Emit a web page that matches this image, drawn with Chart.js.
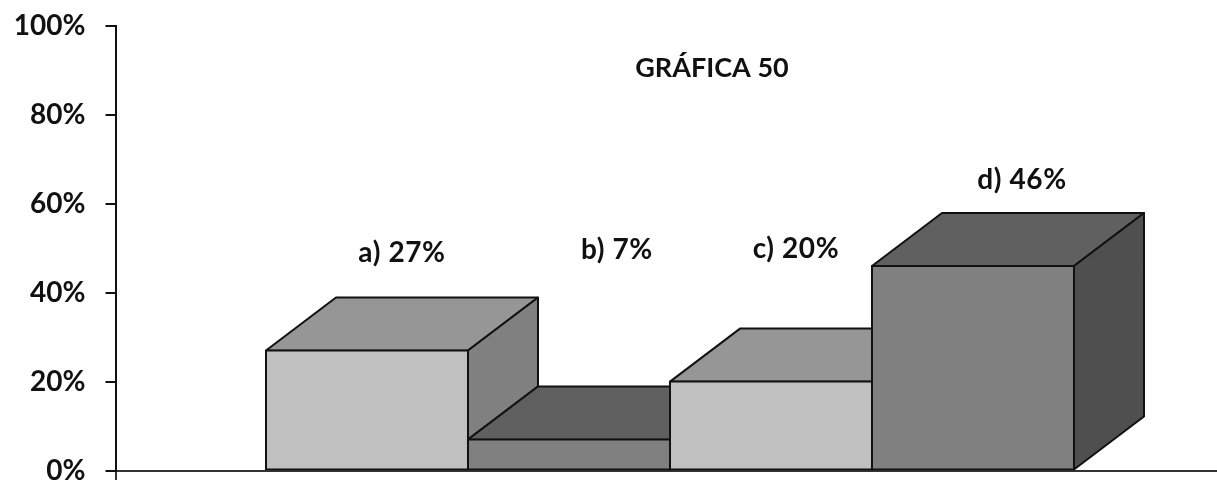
<!DOCTYPE html>
<html>
<head>
<meta charset="utf-8">
<title>GRÁFICA 50</title>
<script src="https://cdn.jsdelivr.net/npm/chart.js@4"></script>
<style>
  html, body { margin: 0; padding: 0; background: #fff; }
  #wrap { width: 1217px; height: 480px; }
</style>
</head>
<body>
<div id="wrap"><canvas id="chart"></canvas></div>
<script>
// datos de la gráfica
const categories = ['a)', 'b)', 'c)', 'd)'];
const values = [27, 7, 20, 46];
const yTicks = [0, 20, 40, 60, 80, 100];
const chartTitle = 'GRÁFICA 50';

// colores de cada cara
const frontColors = ['#c0c0c0', '#808080', '#c0c0c0', '#808080'];
const topColors = ['#969696', '#606060', '#969696', '#606060'];
const sideColors = ['#808080', '#4f4f4f', '#808080', '#4f4f4f'];

// desplazamiento de las etiquetas respecto al centro de cada barra
const labelDx = [35, 48, 25, 49];
const labelY = [253, 250, 249, 180];

const DEPTH_X = 70;
const DEPTH_Y = 53;

function poly(c, pts, fill) {
  c.beginPath();
  pts.forEach((p, i) => i ? c.lineTo(p[0], p[1]) : c.moveTo(p[0], p[1]));
  c.closePath();
  c.fillStyle = fill;
  c.fill();
  c.stroke();
}

// caras superior y lateral, antes de las barras
const depthFaces = {
  id: 'depthFaces',
  beforeDatasetsDraw(chart) {
    const c = chart.ctx;
    const bars = chart.getDatasetMeta(0).data;
    c.save();
    c.strokeStyle = '#111';
    c.lineWidth = 2;
    c.lineJoin = 'round';
    bars.forEach((b, i) => {
      const l = b.x - b.width / 2, r = b.x + b.width / 2;
      const t = b.y, base = b.base;
      poly(c, [[l, t], [r, t], [r + DEPTH_X, t - DEPTH_Y], [l + DEPTH_X, t - DEPTH_Y]], topColors[i]);
      poly(c, [[r, t], [r + DEPTH_X, t - DEPTH_Y], [r + DEPTH_X, base - DEPTH_Y], [r, base]], sideColors[i]);
    });
    c.restore();
  }
};

// título y etiquetas de valor
const textLabels = {
  id: 'textLabels',
  afterDraw(chart) {
    const c = chart.ctx;
    const bars = chart.getDatasetMeta(0).data;
    c.save();
    c.fillStyle = '#111';
    c.textAlign = 'center';
    c.textBaseline = 'middle';
    c.font = 'bold 28px Lato';
    c.letterSpacing = '0.6px';
    bars.forEach((b, i) => {
      c.fillText(categories[i] + ' ' + values[i] + '%', b.x + labelDx[i], labelY[i]);
    });
    c.letterSpacing = '0px';
    c.font = 'bold 27px Lato';
    c.fillText(chartTitle, 712, 68);
    c.restore();
  }
};

new Chart(document.getElementById('chart'), {
  type: 'bar',
  data: {
    datasets: [{
      data: values.map((v, i) => ({ x: i, y: v })),
      backgroundColor: frontColors,
      borderColor: '#111',
      borderWidth: 2,
      borderSkipped: false,
      inflateAmount: 1,
      barPercentage: 1,
      categoryPercentage: 1
    }]
  },
  options: {
    responsive: true,
    maintainAspectRatio: false,
    animation: false,
    layout: { autoPadding: false, padding: { top: 26, right: 0, bottom: 0, left: 0 } },
    plugins: { legend: { display: false }, tooltip: { enabled: false } },
    scales: {
      x: {
        type: 'linear',
        offset: false,
        min: -1.245,
        max: 4.208,
        afterFit: s => { s.height = 9.5; },
        afterBuildTicks: s => { s.ticks = [{ value: s.min }]; },
        grid: { display: true, offset: false, drawOnChartArea: false, color: '#333', lineWidth: 2, tickLength: 10 },
        border: { color: '#333', width: 2 },
        ticks: { display: false }
      },
      y: {
        min: 0,
        max: 100,
        afterFit: s => {
          // sin margen extra por la altura de las etiquetas
          s.width = 115.5;
          s.paddingTop = 0;
          s.paddingBottom = 0;
          s._margins.top = 0;
          s._margins.bottom = 0;
        },
        afterBuildTicks: s => { s.ticks = yTicks.map(v => ({ value: v })); },
        grid: { drawOnChartArea: false, color: '#111', lineWidth: 2, tickLength: 10 },
        border: { color: '#111', width: 2 },
        ticks: {
          callback: v => v + '%',
          color: '#111',
          padding: 20,
          font: { family: 'Lato', weight: 'bold', size: 28 }
        }
      }
    }
  },
  plugins: [depthFaces, textLabels]
});
</script>
</body>
</html>
